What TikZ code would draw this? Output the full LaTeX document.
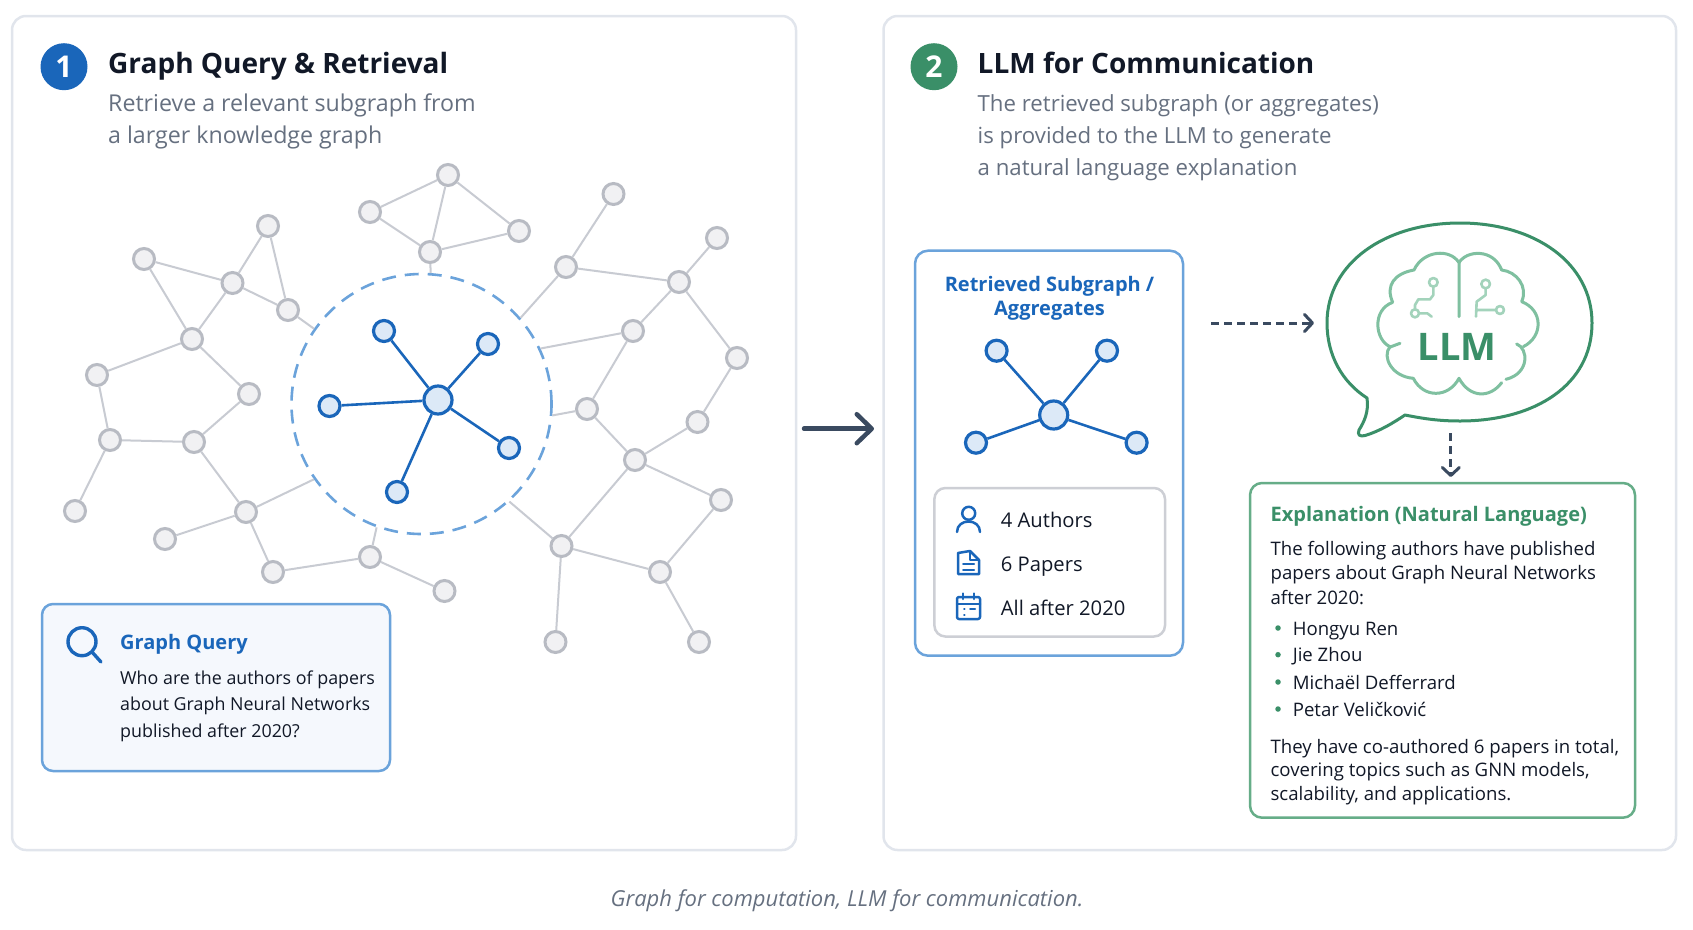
\documentclass[tikz,border=0pt]{standalone}
\usepackage{fontspec}
\setmainfont{Open Sans}
\usepackage{xcolor}
\usetikzlibrary{shapes,arrows.meta,positioning}

\definecolor{panelline}{HTML}{E1E5EC}
\definecolor{inkdark}{HTML}{111827}
\definecolor{inkgray}{HTML}{667080}
\definecolor{inkslate}{HTML}{3A4A60}
\definecolor{bluemain}{HTML}{1A66BA}
\definecolor{blueline}{HTML}{6BA3DB}
\definecolor{bluefill}{HTML}{DCE9F7}
\definecolor{bluepale}{HTML}{F5F8FD}
\definecolor{greenmain}{HTML}{3A8F68}
\definecolor{greenline}{HTML}{66AD88}
\definecolor{greenpale}{HTML}{7FC0A0}
\definecolor{greenlite}{HTML}{A3D3BB}
\definecolor{grayedge}{HTML}{C8CBD2}
\definecolor{grayring}{HTML}{B8BBC3}
\definecolor{grayfill}{HTML}{F1F1F3}

\newcommand{\titlefont}{\fontsize{28}{34}\selectfont\bfseries}
\newcommand{\subfont}{\fontsize{23.2}{27}\selectfont}
\newcommand{\subfontb}{\fontsize{22.2}{27}\selectfont}
\newcommand{\headfont}{\fontsize{20}{25}\selectfont\bfseries}
\newcommand{\queryfont}{\fontsize{17.85}{22}\selectfont}
\newcommand{\statfont}{\fontsize{20.2}{24}\selectfont}
\newcommand{\bodyfont}{\fontsize{18.6}{23}\selectfont}

\begin{document}
\begin{tikzpicture}[x=1pt,y=-1pt,
    panelbox/.style={draw=panelline, line width=2.5pt, fill=white, rounded corners=14pt},
    querybox/.style={draw=blueline, line width=2.5pt, fill=bluepale, rounded corners=11pt},
    subbox/.style={draw=blueline, line width=2.5pt, fill=white, rounded corners=13pt},
    statbox/.style={draw=grayring!70, line width=2.5pt, fill=white, rounded corners=11pt},
    answerbox/.style={draw=greenline, line width=2.5pt, fill=white, rounded corners=12pt},
    badge/.style={circle, inner sep=0pt, minimum size=47pt, text=white, font=\fontsize{30}{30}\selectfont\bfseries},
    txt/.style={anchor=base west, inner sep=0pt},
    ctxt/.style={anchor=base, inner sep=0pt},
    graynode/.style={circle, draw=grayring, line width=3pt, fill=grayfill, inner sep=0pt, minimum size=21pt},
    grayline/.style={draw=grayedge, line width=2pt},
    leaf/.style={circle, draw=bluemain, line width=3.2pt, fill=bluefill, inner sep=0pt, minimum size=21pt},
    hub/.style={circle, draw=bluemain, line width=3.2pt, fill=bluefill, inner sep=0pt, minimum size=28pt},
    blueedge/.style={draw=bluemain, line width=2.6pt},
    hoodring/.style={circle, draw=blueline, line width=2.6pt, dash pattern=on 14pt off 9pt, inner sep=0pt, minimum size=260pt},
    iconline/.style={draw=bluemain, line width=2.5pt, line cap=round, line join=round},
    brainline/.style={draw=greenpale, line width=3pt, line cap=round, line join=round},
    wireline/.style={draw=greenlite, line width=2.6pt, line cap=round, line join=round},
    bulletdot/.style={circle, fill=greenmain, inner sep=0pt, minimum size=5.5pt},
    bigarrow/.style={draw=inkslate, line width=4.5pt, line cap=round, -{Straight Barb[length=15pt,width=29pt,round]}},
    dasharrow/.style={draw=inkslate, line width=3pt, dash pattern=on 7.5pt off 5.5pt, -{Straight Barb[length=8pt,width=17pt,round]}}
  ]
  \useasboundingbox (0,0) rectangle (1693,929);

  % panels
  \draw[panelbox] (12,16) rectangle (796,850);
  \draw[panelbox] (883.5,16) rectangle (1676,850);

  % left header
  \node[badge, fill=bluemain] (badgeone) at (64,66.7) {1};
  \node[txt, text=inkdark, font=\titlefont] (titleone) at (108,73) {Graph Query \& Retrieval};
  \node[txt, text=inkgray, font=\subfont] (subone) at (108,111) {Retrieve a relevant subgraph from};
  \node[txt, text=inkgray, font=\subfont] (subtwo) at (108,143) {a larger knowledge graph};

  % knowledge graph
  \foreach \nm/\px/\py in {g1/448/175, g2/370/212, g3/519/231, g4/430/252, g5/613.5/194, g6/717/238,
      g7/566/267, g8/679/282, g9/268/226, g10/144/259, g11/232.5/283, g12/288/310, g13/192/339,
      g14/97/375, g15/249/394, g16/633/331, g17/737/358, g18/587/409, g19/697.5/422, g20/110/440,
      g21/194/442, g22/635/460, g23/75/511, g24/246/512, g25/165/539, g26/721/500, g27/561.5/546,
      g28/660/572, g29/370/557, g30/273/572, g31/444.5/591, g32/555.5/642, g33/699/642}
    \node[graynode] (\nm) at (\px,\py) {};
  \node[hoodring] (hood) at (421.5,404) {};
  \foreach \a/\b in {g1/g2, g1/g4, g1/g3, g2/g4, g4/g3, g9/g11, g9/g12, g10/g11, g10/g13, g11/g13,
      g11/g12, g13/g14, g13/g15, g14/g20, g15/g21, g20/g21, g20/g23, g21/g24, g24/g25, g24/g30,
      g30/g29, g29/g31, g5/g7, g6/g8, g7/g8, g8/g16, g8/g17, g16/g18, g17/g19, g19/g22, g18/g22,
      g22/g26, g22/g27, g26/g28, g27/g28, g27/g32, g28/g33,
      g4/hood.86, g12/hood.145, g24/hood.215, g29/hood.250, g27/hood.312, g18/hood.355,
      g16/hood.25, g7/hood.41}
    \draw[grayline] (\a) -- (\b);

  % retrieved part
  \node[hub] (hubl) at (438,400) {};
  \foreach \nm/\px/\py in {la/384/331, lb/488/344, lc/329.5/406, ld/509/448, le/397/492} {
    \node[leaf] (\nm) at (\px,\py) {};
    \draw[blueedge] (hubl) -- (\nm);
  }

  % query box
  \draw[querybox] (42,604) rectangle (390,771);
  \draw[iconline, line width=3.4pt] (82,641.7) circle (14);
  \draw[iconline, line width=3.4pt] (92,652) -- (101,662);
  \node[txt, text=bluemain, font=\headfont] (querytitle) at (120,649) {Graph Query};
  \foreach \i/\py/\tx in {1/684/{Who are the authors of papers}, 2/710.7/{about Graph Neural Networks}, 3/737/{published after 2020?}}
    \node[txt, text=inkdark, font=\queryfont] (query\i) at (120,\py) {\tx};

  % between panels
  \coordinate (bigstart) at (804,428.7);
  \coordinate (bigend) at (874,428.7);
  \draw[bigarrow] (bigstart) -- (bigend);

  % right header
  \node[badge, fill=greenmain] (badgetwo) at (934,66.7) {2};
  \node[txt, text=inkdark, font=\titlefont] (titletwo) at (977.5,73) {LLM for Communication};
  \node[txt, text=inkgray, font=\subfontb] (subthree) at (977.5,111) {The retrieved subgraph (or aggregates)};
  \node[txt, text=inkgray, font=\subfontb] (subfour) at (977.5,143) {is provided to the LLM to generate};
  \node[txt, text=inkgray, font=\subfontb] (subfive) at (977.5,175) {a natural language explanation};

  % retrieved subgraph box
  \draw[subbox] (915,250.7) rectangle (1183,655.7);
  \node[ctxt, text=bluemain, font=\headfont] (subgtitle) at (1049.5,291) {Retrieved Subgraph /};
  \node[ctxt, text=bluemain, font=\headfont] (subgtitleb) at (1049.5,315.7) {Aggregates};
  \node[hub] (hubr) at (1053.7,415) {};
  \foreach \nm/\px/\py in {ra/996.6/350.7, rb/1107/350.7, rc/976/442.7, rd/1136.6/442.7} {
    \node[leaf] (\nm) at (\px,\py) {};
    \draw[blueedge] (hubr) -- (\nm);
  }

  % stats
  \draw[statbox] (934.4,488) rectangle (1165,636.5);
  \draw[iconline] (968.7,513.3) circle (6.5);
  \draw[iconline] (957,532) .. controls (957,518) and (980,518) .. (980,532);
  \draw[iconline] (958,553) -- (970,551) -- (979,560) -- (979,574) -- (958,574) -- cycle;
  \draw[iconline, line width=2pt] (970,551) -- (970,560) -- (979,560);
  \draw[iconline, line width=2pt] (963,564) -- (974,564) (963,569.5) -- (974,569.5);
  \draw[iconline, rounded corners=2pt] (957,597) rectangle (980,619);
  \draw[iconline] (957,604) -- (980,604) (963,593.5) -- (963,599) (974,593.5) -- (974,599);
  \draw[iconline, line width=2pt] (964,609) -- (964.5,609) (970,609) -- (975,609) (964,614.5) -- (964.5,614.5);
  \foreach \i/\py/\tx in {1/527/{4 Authors}, 2/571/{6 Papers}, 3/615/{All after 2020}}
    \node[txt, text=inkdark, font=\statfont] (stat\i) at (1000.7,\py) {\tx};

  % dashed flows
  \coordinate (flowstart) at (1211,323);
  \coordinate (flowend) at (1314,323);
  \draw[dasharrow] (flowstart) -- (flowend);
  \coordinate (downstart) at (1450.8,433);
  \coordinate (downend) at (1450.8,477);
  \draw[dasharrow] (downstart) -- (downend);

  % speech bubble
  \draw[draw=greenmain, line width=3pt, line join=round] (1405,415)
    .. controls (1425,419) and (1440,421) .. (1460,421)
    .. controls (1535,421) and (1592,385) .. (1592,323)
    .. controls (1592,263) and (1535,223) .. (1460,223)
    .. controls (1385,223) and (1327,263) .. (1327,323)
    .. controls (1327,355) and (1342,382) .. (1367,398)
    .. controls (1369,412) and (1364,422) .. (1359,430)
    .. controls (1357,435) and (1360,437) .. (1365,435.5)
    .. controls (1380,431) and (1393,423) .. (1405,415) -- cycle;

  % brain, in zoomed units
  \begin{scope}[shift={(1320,210)},x=0.3333pt,y=-0.3333pt]
    \draw[brainline] (417,158) .. controls (440,120) and (520,115) .. (545,180)
      .. controls (590,185) and (625,230) .. (605,275)
      .. controls (670,300) and (670,380) .. (610,410);
    \draw[brainline] (590,402) .. controls (625,415) and (630,490) .. (558,508);
    \draw[brainline] (545,518) .. controls (510,565) and (450,565) .. (417,505)
      .. controls (385,565) and (310,565) .. (280,505)
      .. controls (215,500) and (185,440) .. (210,410)
      .. controls (165,390) and (155,300) .. (218,277)
      .. controls (195,225) and (225,190) .. (282,180)
      .. controls (310,120) and (390,115) .. (417,158) -- (417,320);
    \draw[brainline] (240,400) -- (208,412);
    \draw[wireline] (340,217) circle (13) (497,222) circle (13) (285,310) circle (12) (540,300) circle (12);
    \draw[wireline] (340,232) -- (340,255) -- (330,268) -- (295,268) -- (285,285) -- (285,298);
    \draw[wireline] (298,310) -- (322,310) -- (335,320);
    \draw[wireline] (497,237) -- (497,255) -- (470,275) -- (468,320) (470,300) -- (527,300);
  \end{scope}
  \node[anchor=center, inner sep=0pt, text=greenmain, font=\fontsize{38}{38}\selectfont\bfseries] (llmword) at (1457,346.7) {LLM};

  % explanation box
  \draw[answerbox] (1250,483) rectangle (1635,817.7);
  \node[txt, text=greenmain, font=\headfont] (answertitle) at (1270.4,521.5) {Explanation (Natural Language)};
  \foreach \i/\py/\tx in {1/555.7/{The following authors have published}, 2/579.3/{papers about Graph Neural Networks},
      3/604/{after 2020:}, 4/753/{They have co-authored 6 papers in total,}, 5/776.7/{covering topics such as GNN models,},
      6/800/{scalability, and applications.}}
    \node[txt, text=inkdark, font=\bodyfont] (answer\i) at (1270.4,\py) {\tx};
  \foreach \i/\py/\tx in {1/635/{Hongyu Ren}, 2/661.7/{Jie Zhou}, 3/689/{Michaël Defferrard}, 4/716/{Petar Veličković}} {
    \node[bulletdot] (dot\i) at (1278,\py-7) {};
    \node[txt, text=inkdark, font=\bodyfont] (name\i) at (1292.6,\py) {\tx};
  }

  % caption
  \node[ctxt, text=inkgray, font=\fontsize{22}{26}\selectfont\itshape] (caption) at (847,906.5) {Graph for computation, LLM for communication.};
\end{tikzpicture}
\end{document}
